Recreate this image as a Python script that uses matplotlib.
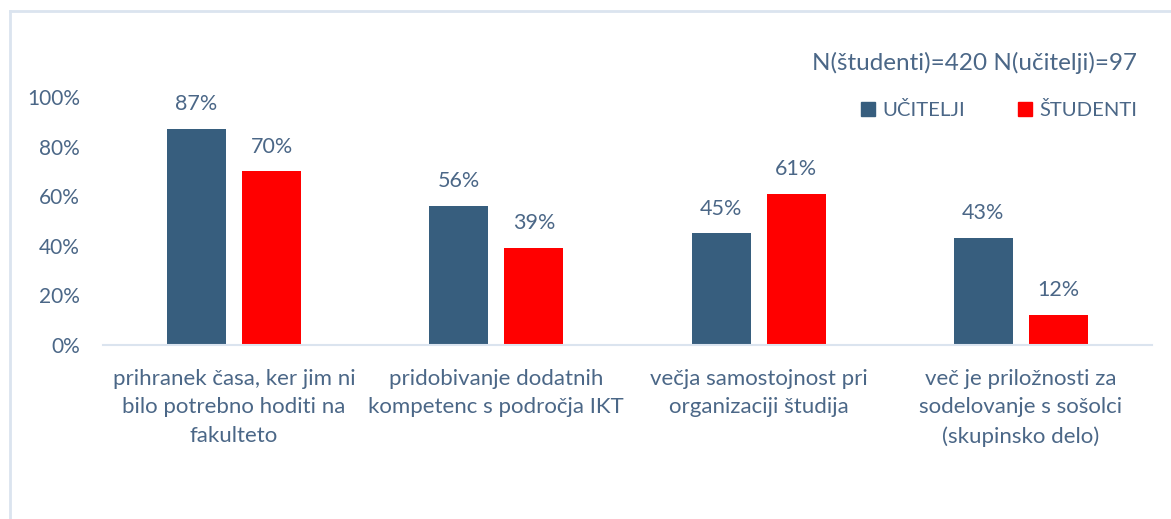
import matplotlib.pyplot as plt
from matplotlib.lines import Line2D
from matplotlib.patches import Patch

categories = [
    "prihranek časa, ker jim ni\nbilo potrebno hoditi na\nfakulteto",
    "pridobivanje dodatnih\nkompetenc s področja IKT",
    "večja samostojnost pri\norganizaciji študija",
    "več je priložnosti za\nsodelovanje s sošolci\n(skupinsko delo)",
]
ucitelji = [87, 56, 45, 43]
studenti = [70, 39, 61, 12]
yticks = [0, 20, 40, 60, 80, 100]
note = "N(študenti)=420 N(učitelji)=97"

TEXT = "#4b6787"
BLUE = "#375e7e"
RED = "#ff0000"
EDGE = "#dbe4ef"

plt.rcParams['font.family'] = ['Lato', 'DejaVu Sans']

W, H = 1171, 519
fig = plt.figure(figsize=(W / 100, H / 100), dpi=100)

# chart frame (only top and left edges are visible)
fig.add_artist(Line2D([10 / W, 10 / W], [0, 1 - 11 / H], color=EDGE, lw=2, transform=fig.transFigure))
fig.add_artist(Line2D([10 / W, 1], [1 - 11 / H, 1 - 11 / H], color=EDGE, lw=2, transform=fig.transFigure))

# axes placed in pixel terms
x0, x1, y0, y1 = 103, 1152, 345, 97
ax = fig.add_axes([x0 / W, 1 - y0 / H, (x1 - x0) / W, (y0 - y1) / H])

bw = 0.225
off = 0.143
xs = range(len(categories))
b1 = ax.bar([x - off for x in xs], ucitelji, width=bw, color=BLUE)
b2 = ax.bar([x + off for x in xs], studenti, width=bw, color=RED)

for bars, vals in ((b1, ucitelji), (b2, studenti)):
    for b, v in zip(bars, vals):
        ax.text(b.get_x() + b.get_width() / 2, v + 6, f"{v}%", ha='center', va='bottom',
                fontsize=15.5, color=TEXT)

ax.set_xlim(-0.5, 3.5)
ax.set_ylim(0, 100)
ax.set_yticks(yticks)
ax.set_yticklabels([f"{t}%" for t in yticks])
ax.set_xticks(list(xs))
ax.set_xticklabels(categories, linespacing=1.55)
ax.tick_params(axis='y', length=0, pad=16.5, labelsize=15, labelcolor=TEXT)
ax.tick_params(axis='x', length=0, pad=17, labelsize=16, labelcolor=TEXT)
for s in ('top', 'right', 'left'):
    ax.spines[s].set_visible(False)
ax.spines['bottom'].set_color(EDGE)
ax.spines['bottom'].set_linewidth(1.5)

fig.text(975 / W, 1 - 63 / H, note, ha='center', va='center', fontsize=17.5, color=TEXT)

handles = [Patch(color=BLUE, label="UČITELJI"), Patch(color=RED, label="ŠTUDENTI")]
fig.legend(handles=handles, loc='center', bbox_to_anchor=(999 / W, 1 - 110 / H), ncol=2,
           frameon=False, fontsize=14.6, labelcolor=TEXT, handlelength=0.7, handleheight=0.7,
           handletextpad=0.35, columnspacing=2.6)

fig.savefig("out.png", dpi=100)
